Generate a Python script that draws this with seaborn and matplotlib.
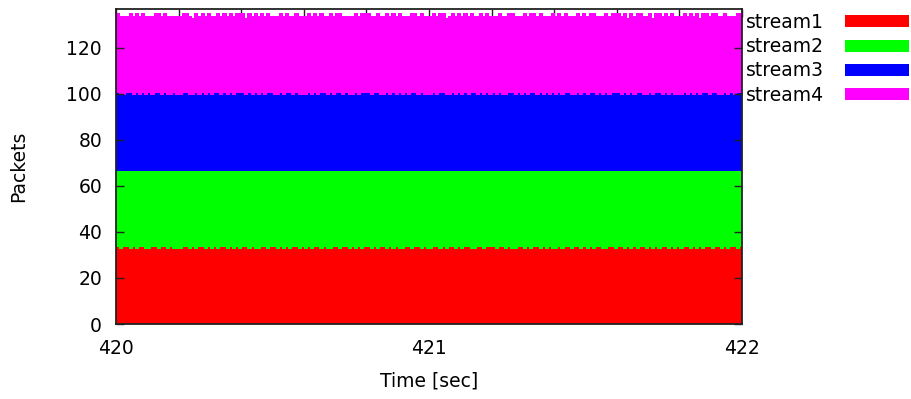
import numpy as np
import pandas as pd
import matplotlib
matplotlib.use("Agg")
import matplotlib.pyplot as plt
import seaborn as sns
from matplotlib.patches import Patch

# packets per 10 ms bin, 420.00 .. 422.00 sec
t_start = 420.0
t_end = 422.0
bin_width = 0.01

stream1 = [
    34, 33, 34, 34, 33, 34, 33, 34, 34, 33, 33, 34, 34, 33, 34, 34, 33, 34, 33, 33,
    33, 34, 34, 33, 34, 33, 34, 34, 33, 34, 33, 34, 33, 34, 34, 33, 34, 33, 34, 33,
    34, 34, 33, 34, 33, 33, 34, 34, 33, 34, 34, 33, 34, 33, 34, 33, 34, 34, 33, 34,
    33, 34, 33, 34, 34, 33, 34, 33, 33, 34, 34, 33, 34, 34, 33, 34, 33, 34, 33, 34,
    34, 33, 34, 33, 34, 34, 33, 34, 33, 34, 33, 33, 34, 34, 33, 34, 34, 33, 34, 33,
    33, 34, 34, 33, 34, 33, 34, 34, 33, 34, 33, 34, 34, 33, 33, 34, 34, 33, 34, 34,
    34, 33, 34, 34, 33, 34, 33, 33, 34, 34, 33, 34, 33, 34, 34, 33, 34, 33, 34, 33,
    33, 34, 33, 34, 34, 33, 34, 34, 33, 34, 33, 34, 33, 34, 34, 33, 33, 34, 34, 33,
    34, 34, 33, 34, 33, 34, 33, 34, 34, 33, 34, 33, 34, 33, 34, 34, 33, 34, 33, 34,
    33, 34, 34, 33, 34, 33, 34, 33, 34, 34, 33, 34, 34, 33, 34, 33, 34, 34, 33, 34,
]
stream2 = [
    33, 34, 33, 33, 34, 33, 34, 33, 33, 34, 34, 33, 33, 34, 33, 33, 34, 33, 34, 34,
    34, 33, 33, 34, 33, 34, 33, 33, 34, 33, 34, 33, 34, 33, 33, 34, 33, 34, 33, 34,
    33, 33, 34, 33, 34, 34, 33, 33, 34, 33, 33, 34, 33, 34, 33, 34, 33, 33, 34, 33,
    34, 33, 34, 33, 33, 34, 33, 34, 34, 33, 33, 34, 33, 33, 34, 33, 34, 33, 34, 33,
    33, 34, 33, 34, 33, 33, 34, 33, 34, 33, 34, 34, 33, 33, 34, 33, 33, 34, 33, 34,
    34, 33, 33, 34, 33, 34, 33, 33, 34, 33, 34, 33, 33, 34, 34, 33, 33, 34, 33, 33,
    33, 34, 33, 33, 34, 33, 34, 34, 33, 33, 34, 33, 34, 33, 33, 34, 33, 34, 33, 34,
    34, 33, 34, 33, 33, 34, 33, 33, 34, 33, 34, 33, 34, 33, 33, 34, 34, 33, 33, 34,
    33, 33, 34, 33, 34, 33, 34, 33, 33, 34, 33, 34, 33, 34, 33, 33, 34, 33, 34, 33,
    34, 33, 33, 34, 33, 34, 33, 34, 33, 33, 34, 33, 33, 34, 33, 34, 33, 33, 34, 33,
]
stream3 = [
    34, 33, 33, 34, 34, 33, 34, 33, 34, 33, 34, 33, 34, 34, 33, 34, 33, 33, 34, 33,
    33, 34, 34, 33, 33, 34, 33, 34, 33, 34, 33, 34, 34, 33, 34, 33, 34, 33, 34, 34,
    34, 33, 34, 33, 34, 33, 34, 33, 34, 34, 33, 33, 34, 33, 34, 34, 33, 34, 33, 33,
    33, 34, 33, 34, 33, 34, 34, 33, 34, 33, 34, 34, 33, 34, 33, 33, 34, 33, 34, 34,
    34, 33, 34, 34, 33, 33, 34, 33, 34, 33, 34, 33, 34, 33, 34, 34, 33, 34, 33, 33,
    33, 34, 33, 34, 34, 33, 33, 34, 33, 34, 33, 34, 33, 34, 34, 33, 34, 33, 34, 33,
    34, 33, 34, 33, 33, 34, 34, 33, 34, 33, 34, 33, 34, 34, 33, 34, 33, 34, 33, 34,
    33, 34, 33, 34, 34, 33, 33, 34, 33, 34, 33, 34, 34, 33, 34, 33, 34, 33, 34, 34,
    34, 33, 34, 33, 34, 33, 34, 34, 33, 33, 34, 33, 34, 34, 33, 34, 33, 34, 33, 33,
    33, 34, 33, 34, 33, 34, 33, 34, 34, 33, 34, 34, 33, 33, 34, 33, 34, 33, 34, 34,
]
stream4 = [
    34, 34, 34, 33, 34, 34, 34, 34, 34, 34, 33, 34, 34, 34, 34, 34, 34, 34, 33, 34,
    34, 34, 34, 34, 33, 34, 34, 34, 34, 34, 34, 33, 34, 34, 34, 34, 34, 34, 34, 34,
    34, 33, 34, 34, 34, 34, 34, 34, 34, 33, 34, 34, 34, 34, 34, 33, 34, 34, 34, 34,
    34, 34, 34, 34, 34, 34, 33, 34, 34, 34, 34, 34, 34, 33, 34, 34, 34, 34, 34, 34,
    34, 34, 33, 34, 34, 34, 34, 34, 34, 34, 34, 34, 33, 34, 34, 34, 34, 34, 34, 34,
    34, 34, 34, 34, 34, 33, 34, 34, 34, 34, 34, 34, 34, 34, 33, 34, 34, 34, 34, 34,
    33, 34, 34, 34, 34, 34, 34, 34, 33, 34, 34, 34, 34, 34, 34, 34, 34, 33, 34, 34,
    34, 34, 34, 34, 33, 34, 34, 34, 34, 34, 34, 34, 34, 34, 33, 34, 34, 34, 34, 34,
    34, 34, 34, 33, 34, 34, 34, 34, 34, 34, 34, 33, 34, 34, 34, 34, 34, 34, 34, 34,
    34, 34, 34, 34, 34, 34, 33, 34, 34, 34, 34, 34, 34, 34, 34, 34, 33, 34, 34, 34,
]

stream_names = ["stream1", "stream2", "stream3", "stream4"]
stream_colors = ["#ff0000", "#00ff00", "#0000ff", "#ff00ff"]

y_ticks = [0, 20, 40, 60, 80, 100, 120]
x_ticks = [420, 421, 422]

# long format table for seaborn
n_bins = len(stream1)
bin_mid = t_start + bin_width * (np.arange(n_bins) + 0.5)
frames = []
for name, vals in zip(stream_names, [stream1, stream2, stream3, stream4]):
    frames.append(pd.DataFrame({"time": bin_mid, "packets": vals, "stream": name}))
df = pd.concat(frames, ignore_index=True)

sns.set_theme(style="white")
plt.rcParams["font.family"] = ["DejaVu Sans"]
plt.rcParams["text.color"] = "black"
plt.rcParams["axes.labelcolor"] = "black"
plt.rcParams["xtick.color"] = "black"
plt.rcParams["ytick.color"] = "black"

fs = 13.5

fig = plt.figure(figsize=(9.12, 3.99), dpi=100)
ax = fig.add_axes([116 / 912, 75 / 399, 626 / 912, 314.5 / 399])

sns.histplot(data=df, x="time", weights="packets", hue="stream",
             hue_order=stream_names[::-1], palette=stream_colors[::-1],
             multiple="stack", bins=n_bins, binrange=(t_start, t_end),
             shrink=1, linewidth=0, alpha=1, legend=False,
             antialiased=False, ax=ax)

# close the one-pixel seams between neighbouring bars
for p in ax.patches:
    p.set_edgecolor(p.get_facecolor())
    p.set_linewidth(0.5)

ax.set_xlim(t_start, t_end)
ax.set_ylim(0, 136.7)
ax.set_axisbelow(False)

ax.set_xticks(x_ticks)
ax.set_xticklabels([str(v) for v in x_ticks])
ax.tick_params(axis="x", direction="in", length=0, pad=11, labelsize=fs)
ax.set_yticks(y_ticks)
ax.tick_params(axis="y", direction="in", length=6, width=1, left=True, right=True,
               pad=10, labelsize=fs, color="#222222")

# small ticks along the top edge every 0.2 s
top = ax.secondary_xaxis("top")
top.set_xticks(np.arange(420, 422.01, 0.2))
top.tick_params(direction="in", length=6, width=1, labeltop=False, color="#222222")
top.spines["top"].set_visible(False)

for sp in ax.spines.values():
    sp.set_visible(True)
    sp.set_color("#222222")
    sp.set_linewidth(1.3)

ax.set_xlabel("Time [sec]", fontsize=fs)
ax.set_ylabel("Packets", fontsize=fs)
ax.xaxis.set_label_coords(0.5, -0.152)
ax.yaxis.set_label_coords(-0.14, 0.5)

handles = [Patch(facecolor=c, edgecolor="none") for c in stream_colors]
fig.legend(handles, stream_names, loc="upper left",
           bbox_to_anchor=(746 / 912, 1 - 13 / 399), frameon=False,
           markerfirst=False, fontsize=fs, handlelength=3.4, handleheight=0.62,
           handletextpad=1.1, labelspacing=0.28, borderpad=0, borderaxespad=0)

fig.savefig("out.png", dpi=100)
